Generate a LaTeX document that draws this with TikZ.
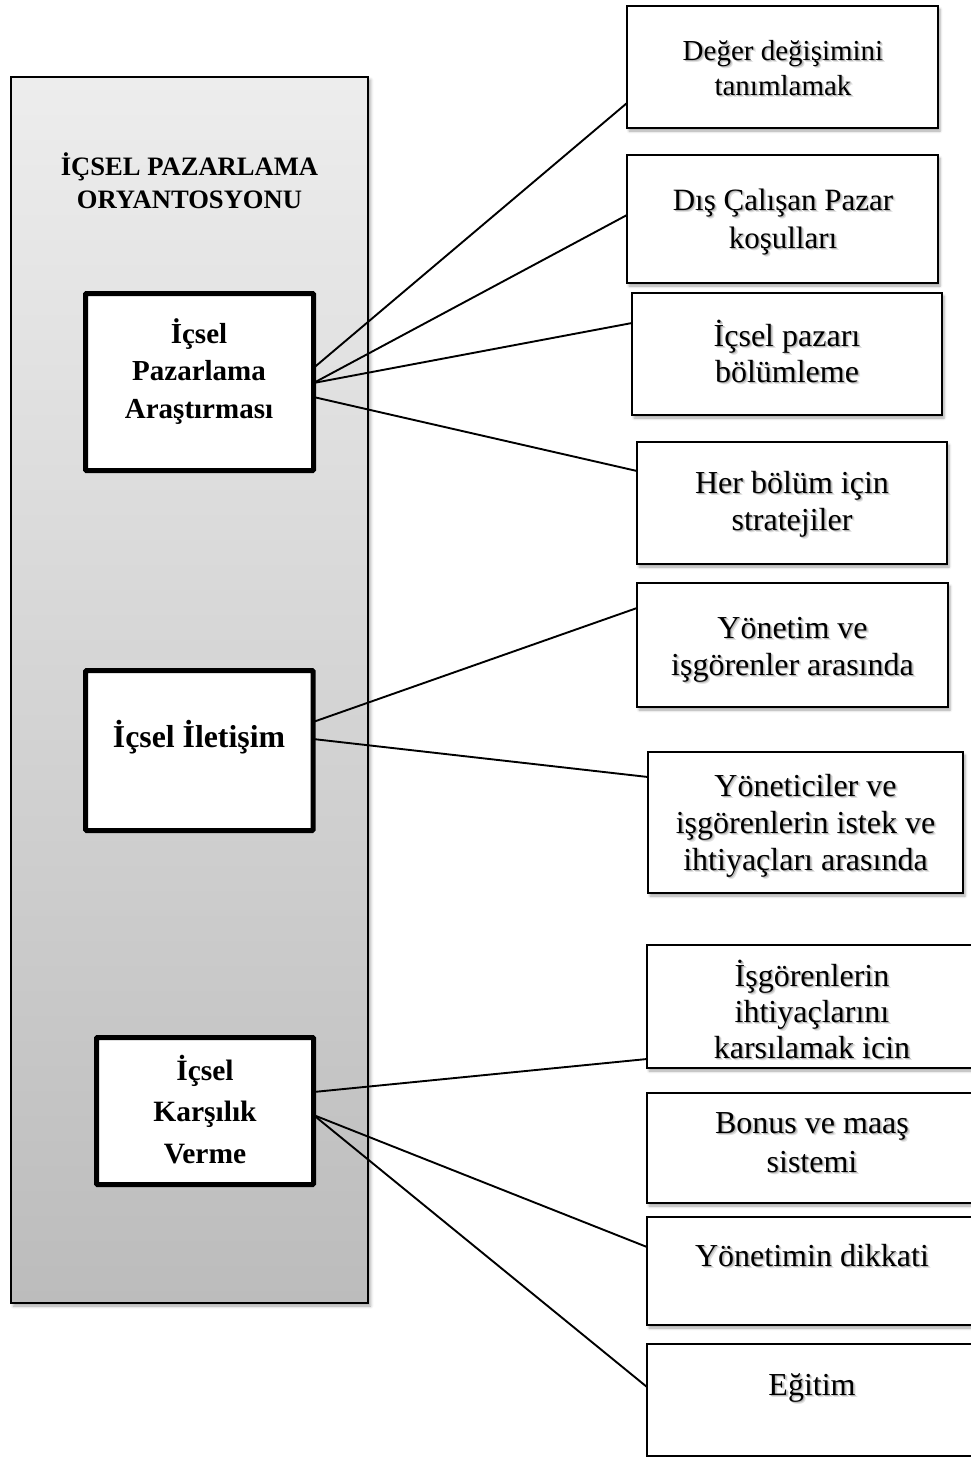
\documentclass[tikz,border=0pt]{standalone}
\usepackage{fontspec}
\setmainfont{Liberation Serif}
\usetikzlibrary{calc,shadows.blur}

% soft shadow behind a line of text
\newcommand\shd[1]{\rlap{\kern2.4pt\raisebox{-2.4pt}{\textcolor{black!12}{#1}}}\rlap{\kern1.3pt\raisebox{-1.3pt}{\textcolor{black!28}{#1}}}#1}

\definecolor{paneltop}{RGB}{237,237,237}
\definecolor{panelbot}{RGB}{188,188,188}

\tikzset{
  panel/.style={draw=black, line width=1.9pt, top color=paneltop, bottom color=panelbot,
    rectangle, inner sep=0pt, outer sep=0pt,
    blur shadow={shadow xshift=2.5pt, shadow yshift=-3pt, shadow blur radius=3pt, shadow opacity=35}},
  mainbox/.style={draw=black, line width=5pt, fill=white, rectangle, rounded corners=1pt,
    inner sep=0pt, outer sep=0pt},
  itembox/.style={draw=black, line width=1.9pt, fill=white, rectangle, inner sep=0pt, outer sep=0pt,
    blur shadow={shadow xshift=2pt, shadow yshift=-3pt, shadow blur radius=2.5pt, shadow opacity=35}},
  conn/.style={draw=black, line width=1.9pt},
  head/.style={anchor=base, inner sep=0pt, font=\fontsize{26.6}{33}\selectfont\bfseries},
  mtxt/.style={anchor=base, inner sep=0pt, font=\fontsize{29}{39}\selectfont\bfseries},
  itxt/.style={anchor=base, inner sep=0pt, font=\fontsize{32}{37}\selectfont},
}

\begin{document}
\begin{tikzpicture}[x=1pt,y=-1pt]
\useasboundingbox (0,0) rectangle (970,1457);

% left panel with its three main blocks
\node[panel, minimum width=357pt, minimum height=1226pt] (panel) at (189.5,690) {};
\node[head] (h1) at (189.5,175) {İÇSEL PAZARLAMA};
\node[head] (h2) at (189.5,208) {ORYANTOSYONU};

\node[mainbox, minimum width=228pt, minimum height=177pt] (b1) at (199.5,382) {};
\node[mainbox, minimum width=227.5pt, minimum height=160pt] (b2) at (199.3,750.5) {};
\node[mainbox, minimum width=217pt, minimum height=147pt] (b3) at (205,1111) {};

\node[mtxt] (b1a) at (199,343) {İçsel};
\node[mtxt] (b1b) at (199,380) {Pazarlama};
\node[mtxt] (b1c) at (199,418) {Araştırması};
\node[mtxt, font=\fontsize{31.8}{39}\selectfont\bfseries] (b2a) at (199,747) {İçsel İletişim};
\node[mtxt, font=\fontsize{29.5}{41}\selectfont\bfseries] (b3a) at (205,1080) {İçsel};
\node[mtxt, font=\fontsize{29.5}{41}\selectfont\bfseries] (b3b) at (205,1121) {Karşılık};
\node[mtxt, font=\fontsize{29.5}{41}\selectfont\bfseries] (b3c) at (205,1163) {Verme};

% right-hand item boxes
\node[itembox, minimum width=311pt, minimum height=122pt] (r1) at (782.5,67) {};
\node[itembox, minimum width=311pt, minimum height=128pt] (r2) at (782.5,219) {};
\node[itembox, minimum width=310pt, minimum height=122pt] (r3) at (787,354) {};
\node[itembox, minimum width=310pt, minimum height=122pt] (r4) at (792,503) {};
\node[itembox, minimum width=311pt, minimum height=124pt] (r5) at (792.5,645) {};
\node[itembox, minimum width=315pt, minimum height=141pt] (r6) at (805.5,822.5) {};
\node[itembox, minimum width=330pt, minimum height=123pt] (r7) at (812,1006.5) {};
\node[itembox, minimum width=330pt, minimum height=110pt] (r8) at (812,1148) {};
\node[itembox, minimum width=330pt, minimum height=108pt] (r9) at (812,1271) {};
\node[itembox, minimum width=330pt, minimum height=112pt] (r10) at (812,1400) {};

\node[itxt, font=\fontsize{29}{35}\selectfont] (t1a) at (783,60) {\shd{Değer değişimini}};
\node[itxt, font=\fontsize{29}{35}\selectfont] (t1b) at (783,95) {\shd{tanımlamak}};
\node[itxt, font=\fontsize{31}{38}\selectfont] (t2a) at (783,210) {\shd{Dış Çalışan Pazar}};
\node[itxt, font=\fontsize{31}{38}\selectfont] (t2b) at (783,248) {\shd{koşulları}};
\node[itxt] (t3a) at (787,346) {\shd{İçsel pazarı}};
\node[itxt] (t3b) at (787,382) {\shd{bölümleme}};
\node[itxt] (t4a) at (792,493) {\shd{Her bölüm için}};
\node[itxt] (t4b) at (792,530) {\shd{stratejiler}};
\node[itxt] (t5a) at (792.5,638) {\shd{Yönetim ve}};
\node[itxt] (t5b) at (792.5,675) {\shd{işgörenler arasında}};
\node[itxt] (t6a) at (805.5,796) {\shd{Yöneticiler ve}};
\node[itxt] (t6b) at (805.5,833) {\shd{işgörenlerin istek ve}};
\node[itxt] (t6c) at (805.5,870) {\shd{ihtiyaçları arasında}};
\node[itxt] (t7a) at (812,986) {\shd{İşgörenlerin}};
\node[itxt] (t7b) at (812,1022) {\shd{ihtiyaçlarını}};
\node[itxt] (t7c) at (812,1058) {\shd{karsılamak icin}};
\node[itxt] (t8a) at (812,1133) {\shd{Bonus ve maaş}};
\node[itxt] (t8b) at (812,1172) {\shd{sistemi}};
\node[itxt] (t9a) at (812,1266) {\shd{Yönetimin dikkati}};
\node[itxt] (t10a) at (812,1395) {\shd{Eğitim}};

% connectors from the main blocks to their items
\draw[conn] ($(b1.north east)+(0,74.5)$) -- ($(r1.north west)+(0,97)$);
\draw[conn] ($(b1.north east)+(0,89.5)$) -- ($(r2.north west)+(0,60)$);
\draw[conn] ($(b1.north east)+(0,89.5)$) -- ($(r3.north west)+(0,30)$);
\draw[conn] ($(b1.north east)+(0,103.5)$) -- ($(r4.north west)+(0,29)$);
\draw[conn] ($(b2.north east)+(0,51.5)$) -- ($(r5.north west)+(0,25)$);
\draw[conn] ($(b2.north east)+(0,68.5)$) -- ($(r6.north west)+(0,25)$);
\draw[conn] ($(b3.north east)+(0,54.5)$) -- ($(r7.north west)+(0,114)$);
\draw[conn] ($(b3.north east)+(0,77.5)$) -- ($(r9.north west)+(0,30)$);
\draw[conn] ($(b3.north east)+(0,77.5)$) -- ($(r10.north west)+(0,43)$);
\end{tikzpicture}
\end{document}
